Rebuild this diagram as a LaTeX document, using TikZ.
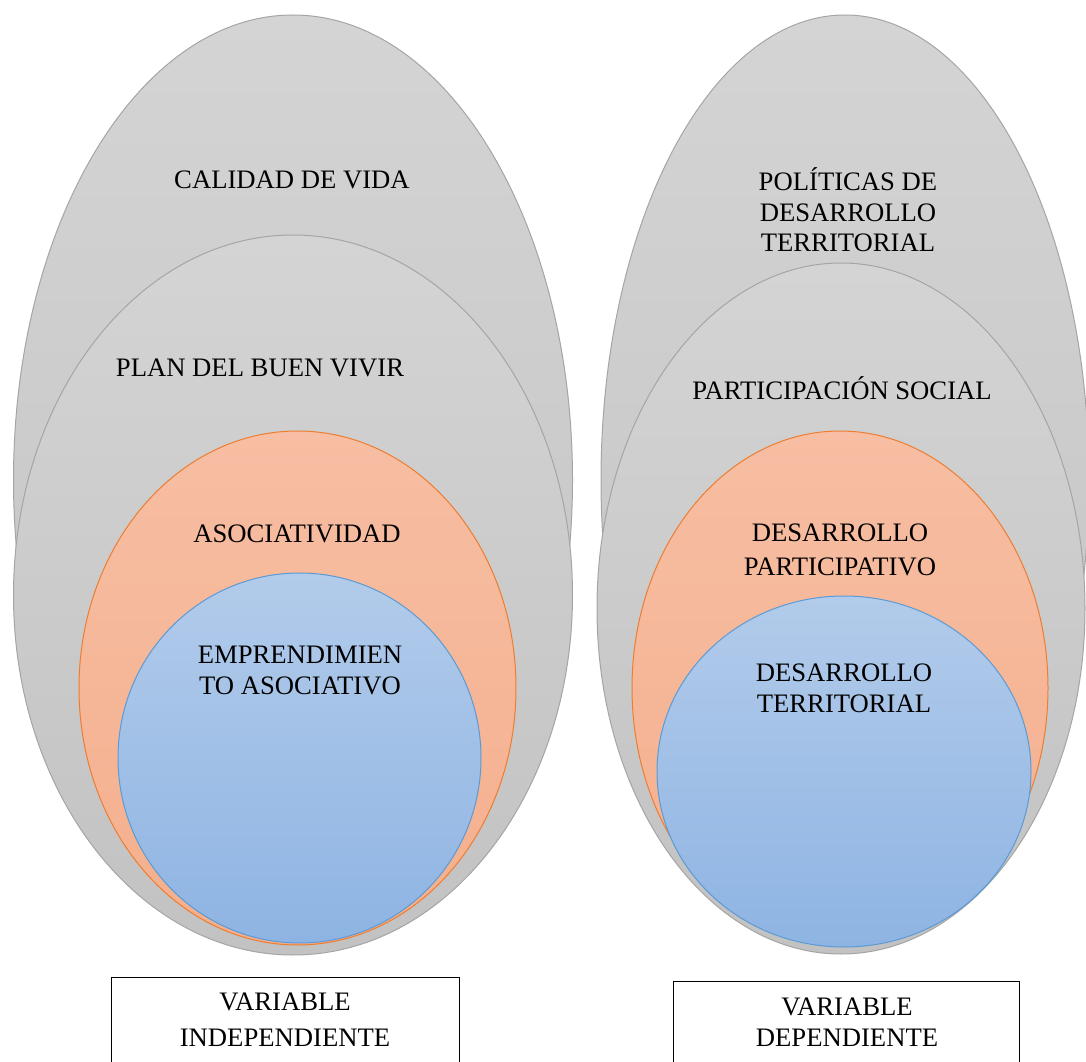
\documentclass[tikz,border=0pt]{standalone}
\usepackage{fontspec}
\setmainfont{Liberation Serif}
\usetikzlibrary{shapes.geometric}
\definecolor{grayline}{HTML}{A5A5A5}
\definecolor{graytop}{HTML}{D4D4D4}
\definecolor{graybot}{HTML}{C2C2C2}
\definecolor{orline}{HTML}{ED7D31}
\definecolor{ortop}{HTML}{F7BEA3}
\definecolor{orbot}{HTML}{F4AF8D}
\definecolor{blline}{HTML}{5B9BD5}
\definecolor{bltop}{HTML}{B2CBEA}
\definecolor{blbot}{HTML}{8EB4E3}
\begin{document}
\begin{tikzpicture}[x=0.75pt,y=-0.75pt,
  ell/.style={ellipse, inner sep=0pt, outer sep=0pt, line width=0.75pt},
  dims/.style 2 args={minimum width={#1*0.75pt}, minimum height={#2*0.75pt}},
  grayell/.style={ell, draw=grayline, top color=graytop, bottom color=graybot},
  orell/.style={ell, draw=orline, top color=ortop, bottom color=orbot},
  blell/.style={ell, draw=blline, top color=bltop, bottom color=blbot},
  lbl/.style={font=\fontsize{20pt}{23pt}\selectfont, align=center, inner sep=0pt},
  varbox/.style={draw=black, line width=0.75pt, inner sep=0pt, outer sep=0pt}]
\path[use as bounding box, clip] (0,0) rectangle (1086,1062);
\fill[white] (0,0) rectangle (1086,1062);
% left group
\node[grayell, dims={559}{930}] (L1) at (293,480) {};
\node[grayell, dims={559}{720}] (L2) at (293,595) {};
\node[orell, dims={437}{514}] (L3) at (297.5,688) {};
\node[blell, dims={363}{370}] (L4) at (299.5,758) {};
% right group
\node[grayell, dims={488}{930}] (R1) at (845,480) {};
\node[grayell, dims={488}{691}] (R2) at (841,608.5) {};
\node[orell, dims={416}{514}] (R3) at (840,688) {};
\node[blell, dims={374}{351}] (R4) at (844,771.5) {};
% labels
\node[lbl, anchor=base] (tCal) at (292,189) {CALIDAD DE VIDA};
\node[lbl, anchor=base] (tPlan) at (260,377) {PLAN DEL BUEN VIVIR};
\node[lbl, anchor=base] (tAsoc) at (297,542) {ASOCIATIVIDAD};
\node[lbl] (tEmp) at (300,670.5) {EMPRENDIMIEN\\TO ASOCIATIVO};
\node[lbl] (tPol) at (848,210) {POLÍTICAS DE\\DESARROLLO\\TERRITORIAL};
\node[lbl, anchor=base] (tPart) at (842,400) {PARTICIPACIÓN SOCIAL};
\node[lbl] (tDesP) at (840,550) {DESARROLLO\\[2.5pt]PARTICIPATIVO};
\node[lbl] (tDesT) at (844,688.5) {DESARROLLO\\TERRITORIAL};
% boxes
\node[varbox, minimum width={348*0.75pt}, minimum height={133*0.75pt}] (bI) at (285,1043.5) {};
\node[varbox, minimum width={346*0.75pt}, minimum height={133*0.75pt}] (bD) at (846,1047.5) {};
\node[lbl] (tVI) at (285,1020) {VARIABLE\\[4pt]INDEPENDIENTE};
\node[lbl] (tVD) at (847,1022.5) {VARIABLE\\DEPENDIENTE};
\end{tikzpicture}
\end{document}
